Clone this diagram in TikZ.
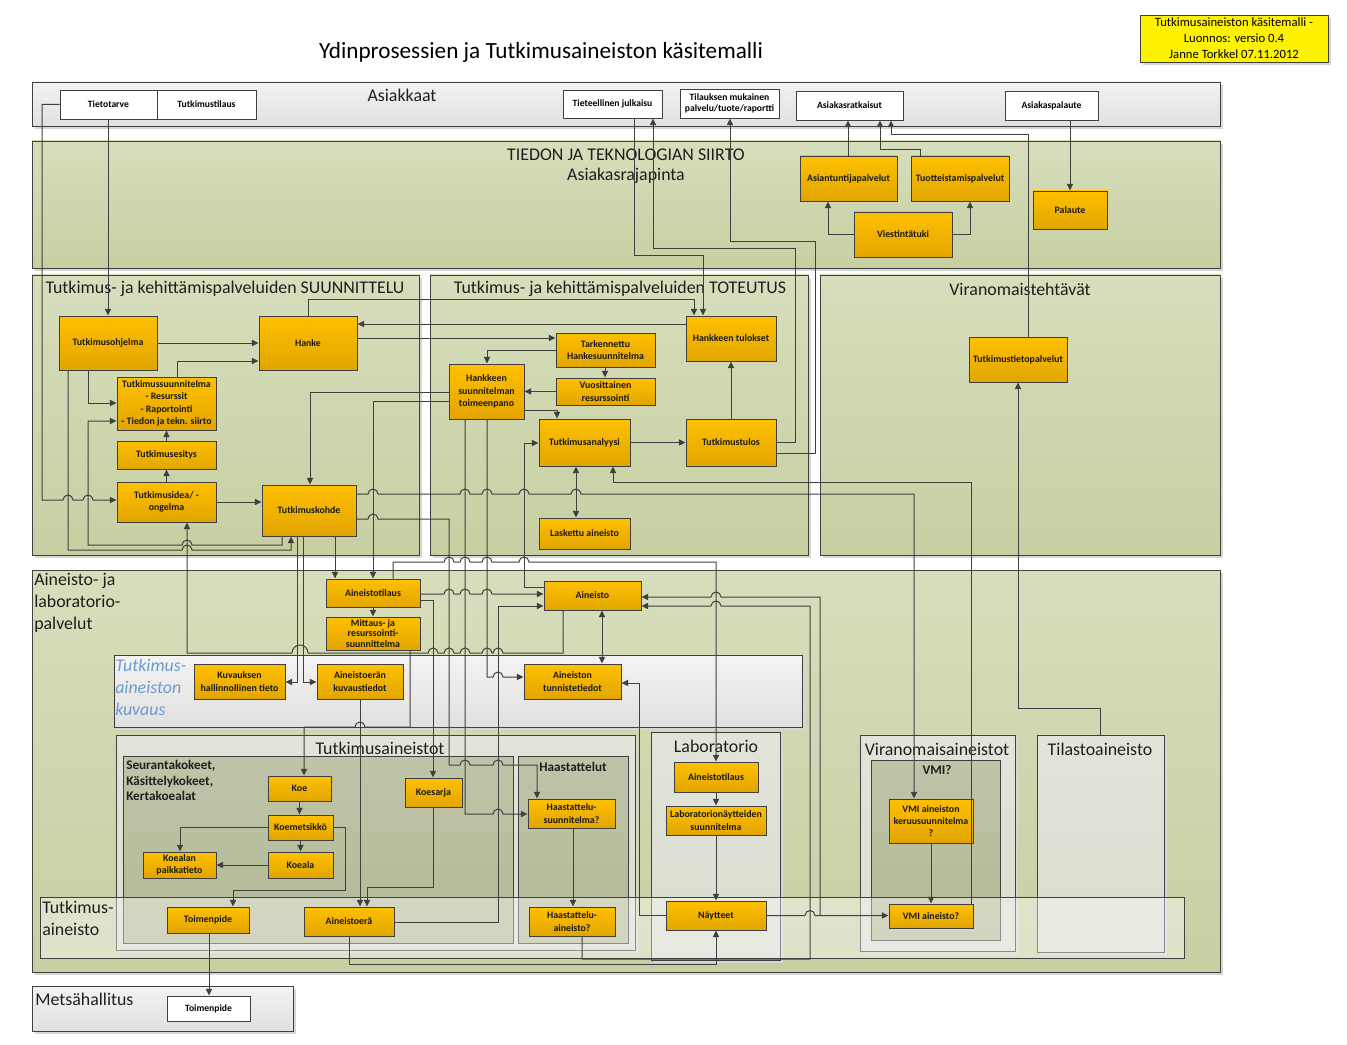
\documentclass[tikz,border=0pt]{standalone}
\usepackage{fontspec}
\setmainfont{Carlito}
\usetikzlibrary{arrows.meta}
\definecolor{orgT}{HTML}{FFC000}
\definecolor{orgB}{HTML}{E2A500}
\definecolor{grnT}{HTML}{D6DEBC}
\definecolor{grnB}{HTML}{C7CFA2}
\definecolor{lc}{HTML}{404040}
\definecolor{gryT}{HTML}{F3F3F3}
\definecolor{gryB}{HTML}{E0E0E0}
\definecolor{paleT}{HTML}{E2E4DA}
\definecolor{paleB}{HTML}{D9DCCE}
\definecolor{darkT}{HTML}{BEC4A7}
\definecolor{darkB}{HTML}{B3BA96}
\definecolor{kblue}{HTML}{6E9AD0}
\newcommand{\mybx}[7]{\node[#1,minimum width={(#5-#3)*0.75pt},minimum height={(#6-#4)*0.75pt}] (#2) at ({(#3+#5)/2},{(#4+#6)/2}) {#7};}
\newcommand{\mycbox}[5]{\fill[black!16] ({#1+3},{#2+3}) rectangle ({#3+3},{#4+3});\draw[draw=lc,line width=0.7pt,#5] (#1,#2) rectangle (#3,#4);}
\begin{document}
\begin{tikzpicture}[x=0.75pt,y=-0.75pt,
 ob/.style={draw=lc,line width=0.7pt,top color=orgT,bottom color=orgB,align=center,inner sep=0.5pt,text=black!90,font=\fontsize{7.4}{9.3}\selectfont\bfseries},
 wb/.style={draw=lc,line width=0.7pt,fill=white,align=center,inner sep=0.5pt,font=\fontsize{7.2}{8.8}\selectfont\bfseries},
 clab/.style={inner sep=0pt,text=black!88,font=\fontsize{13.4}{15}\selectfont},
 glab/.style={inner sep=0pt,text=black!88,font=\fontsize{9.9}{11.8}\selectfont\bfseries,align=left},
 con/.style={draw=lc,line width=0.75pt},
 arr/.style={con,-{Triangle[length=5pt,width=4.6pt]}},
 arr2/.style={con,{Triangle[length=5pt,width=4.6pt]}-{Triangle[length=5pt,width=4.6pt]}},
 grn/.style={top color=grnT,bottom color=grnB},
 gry/.style={top color=gryT,bottom color=gryB},
 pale/.style={top color=paleT,bottom color=paleB},
 dark/.style={top color=darkT,bottom color=darkB},
 hopR/.style 2 args={insert path={-- ({#1-5},#2) arc[start angle=180,end angle=360,radius=5]}},
 hopL/.style 2 args={insert path={-- ({#1+5},#2) arc[start angle=0,end angle=-180,radius=5]}},
 hopLw/.style 2 args={insert path={-- ({#1+8},#2) arc[start angle=0,end angle=-180,radius=8]}},
]
\useasboundingbox[fill=white] (0,0) rectangle (1347,1045);

% ---------- containers ----------
\mycbox{32}{82}{1220}{126}{gry}
\mycbox{32}{141}{1220}{268}{grn}
\mycbox{32}{275}{419}{555}{grn}
\mycbox{430}{275}{808}{555}{grn}
\mycbox{820}{275}{1220}{555}{grn}
\mycbox{32}{570}{1220}{972}{grn}
\mycbox{114}{655}{802}{727}{gry}
\mycbox{116}{735}{635}{950}{pale}
\draw[draw=lc,line width=0.7pt,dark] (123,756) rectangle (513,943);
\draw[draw=lc,line width=0.7pt,dark] (518,756) rectangle (628,943);
\mycbox{651}{732}{780}{960}{pale}
\mycbox{860}{735}{1015}{951}{pale}
\draw[draw=lc,line width=0.7pt,dark] (871,760) rectangle (1000,940);
\mycbox{1037}{735}{1164}{952}{pale}
\draw[draw=lc,line width=0.7pt,fill=white,fill opacity=0.4] (40,897) rectangle (1184,958);
\mycbox{32}{986}{293}{1031}{gry}
\coordinate (tilc) at (1100,735);

% ---------- labels ----------
\node (title) at (541,52) {\fontsize{17.4}{20}\selectfont Ydinprosessien ja Tutkimusaineiston käsitemalli};
\fill[black!16] (1143,18) rectangle (1331,65);
\mybx{draw=lc,line width=0.7pt,fill=yellow,align=center,inner sep=0pt,font=\fontsize{9.5}{12}\selectfont}{note}{1140}{15}{1328}{62}{Tutkimusaineiston käsitemalli -\\Luonnos: versio 0.4\\Janne Torkkel 07.11.2012}
\node[clab] (lAsi) at (402,95) {Asiakkaat};
\node[clab] (lTied) at (626,155) {TIEDON JA TEKNOLOGIAN SIIRTO};
\node[clab] (lAsr) at (626,176) {Asiakasrajapinta};
\node[clab] (lSuu) at (225,289) {Tutkimus- ja kehittämispalveluiden SUUNNITTELU};
\node[clab] (lTot) at (620,289) {Tutkimus- ja kehittämispalveluiden TOTEUTUS};
\node[clab] (lVir) at (1020,289) {Viranomaistehtävät};
\node[clab,anchor=north west,align=left,font=\fontsize{13.4}{16.5}\selectfont] (lAin) at (34,573) {Aineisto- ja\\laboratorio-\\palvelut};
\node[clab,anchor=north west,align=left,text=kblue,font=\fontsize{13.4}{16.5}\selectfont\itshape] (lKuv) at (115,659) {Tutkimus-\\aineiston\\kuvaus};
\node[clab] (lTa) at (380,748) {Tutkimusaineistot};
\node[glab,anchor=north west] (lSeu) at (126,760) {Seurantakokeet,\\Käsittelykokeet,\\Kertakoealat};
\node[glab] (lHaa) at (573,767) {Haastattelut};
\node[clab] (lLab) at (716,746) {Laboratorio};
\node[clab] (lVa) at (937,749) {Viranomaisaineistot};
\node[glab] (lVmi) at (937,770) {VMI?};
\node[clab] (lTil) at (1100,749) {Tilastoaineisto};
\node[clab,anchor=north west,align=left,font=\fontsize{13.4}{16.5}\selectfont] (lBand) at (42,901) {Tutkimus-\\aineisto};
\node[clab,anchor=west] (lMet) at (35,999) {Metsähallitus};

% ---------- boxes ----------
\mybx{wb}{tt}{60}{90}{157}{119}{Tietotarve}
\mybx{wb}{ttil}{157}{90}{256}{119}{Tutkimustilaus}
\mybx{wb}{jul}{563}{90}{662}{118}{Tieteellinen julkaisu}
\mybx{wb}{til}{680}{89}{779}{118}{Tilauksen mukainen\\palvelu/tuote/raportti}
\mybx{wb}{ark}{796}{91}{903}{120}{Asiakasratkaisut}
\mybx{wb}{apal}{1005}{91}{1098}{120}{Asiakaspalaute}
\mybx{ob}{asp}{800}{156}{897}{201}{Asiantuntijapalvelut}
\mybx{ob}{tuo}{911}{156}{1009}{201}{Tuotteistamispalvelut}
\mybx{ob}{vie}{854}{212}{952}{257}{Viestintätuki}
\mybx{ob}{pal}{1033}{191}{1107}{229}{Palaute}
\mybx{ob}{tohj}{59}{316}{157}{370}{Tutkimusohjelma}
\mybx{ob}{hanke}{259}{316}{357}{370}{Hanke}
\mybx{ob}{tsuun}{117}{377}{216}{430}{Tutkimussuunnitelma\\- Resurssit\\- Raportointi\\- Tiedon ja tekn. siirto}
\mybx{ob}{tes}{117}{441}{216}{469}{Tutkimusesitys}
\mybx{ob}{tid}{117}{482}{216}{522}{Tutkimusidea/ -\\ongelma}
\mybx{ob}{tkoh}{262}{485}{356}{536}{Tutkimuskohde}
\mybx{ob}{htul}{686}{316}{776}{361}{Hankkeen tulokset}
\mybx{ob}{tark}{556}{333}{655}{367}{Tarkennettu\\Hankesuunnitelma}
\mybx{ob}{htp}{449}{364}{524}{419}{Hankkeen\\suunnitelman\\toimeenpano}
\mybx{ob}{vuo}{556}{378}{655}{405}{Vuosittainen\\resurssointi}
\mybx{ob}{tan}{539}{419}{630}{466}{Tutkimusanalyysi}
\mybx{ob}{tulos}{686}{419}{776}{466}{Tutkimustulos}
\mybx{ob}{lask}{539}{518}{630}{549}{Laskettu aineisto}
\mybx{ob}{ttp}{969}{337}{1067}{382}{Tutkimustietopalvelut}
\mybx{ob}{atil}{326}{579}{420}{607}{Aineistotilaus}
\mybx{ob,font=\fontsize{7.4}{8.1}\selectfont\bfseries}{mit}{326}{617}{420}{650}{Mittaus- ja\\resurssointi-\\suunnittelma}
\mybx{ob}{ain}{544}{581}{641}{610}{Aineisto}
\mybx{ob}{kuv}{194}{664}{285}{699}{Kuvauksen\\hallinnollinen tieto}
\mybx{ob}{aek}{317}{664}{403}{699}{Aineistoerän\\kuvaustiedot}
\mybx{ob}{atun}{524}{664}{621}{699}{Aineiston\\tunnistetiedot}
\mybx{ob}{koe}{268}{776}{331}{801}{Koe}
\mybx{ob}{kms}{268}{815}{333}{840}{Koemetsikkö}
\mybx{ob}{kpt}{143}{852}{216}{878}{Koealan\\paikkatieto}
\mybx{ob}{kal}{268}{852}{333}{878}{Koeala}
\mybx{ob}{toi}{167}{907}{249}{933}{Toimenpide}
\mybx{ob}{aer}{304}{907}{394}{936}{Aineistoerä}
\mybx{ob}{kse}{405}{778}{462}{807}{Koesarja}
\mybx{ob}{hsu}{528}{799}{615}{828}{Haastattelu-\\suunnitelma?}
\mybx{ob}{hai}{529}{907}{615}{936}{Haastattelu-\\aineisto?}
\mybx{ob}{latil}{674}{762}{758}{792}{Aineistotilaus}
\mybx{ob}{lns}{666}{806}{766}{835}{Laboratorionäytteiden\\suunnitelma}
\mybx{ob}{nay}{666}{901}{766}{930}{Näytteet}
\mybx{ob}{vkeru}{889}{799}{973}{843}{VMI aineiston\\keruusuunnitelma\\?}
\mybx{ob}{vain}{889}{904}{973}{928}{VMI aineisto?}
\mybx{wb}{mtoi}{167}{996}{250}{1021}{Toimenpide}

% ---------- connectors ----------
\draw[arr] (tt.west) -| (42,300) -- (42,500) [hopR={68}{500}] [hopR={88}{500}] -- (tid.west |- 0,500);
\draw[arr] (tt.south -| 108,0) -- (tohj.north -| 108,0);
\draw[arr] (jul.south -| 634,0) -- (634,256) -- (703,256) -- (htul.north -| 703,0);
\draw[arr] (tulos.east |- 0,442) -- (795,442) -- (795,249) -- (653,249) -- (jul.south -| 653,0);
\draw[arr] (tulos.east |- 0,453) -- (815,453) -- (815,242) -- (730,242) -- (til.south -| 730,0);
\draw[arr] (asp.north -| 848,0) -- (ark.south -| 848,0);
\draw[arr] (tuo.north -| 920,0) -- (920,150) -- (880,150) -- (ark.south -| 880,0);
\draw[arr] (ttp.north -| 1028,0) -- (1028,135) -- (891,135) -- (ark.south -| 891,0);
\draw[arr] (apal.south -| 1070,0) -- (pal.north -| 1070,0);
\draw[arr] (vie.west) -| (asp.south -| 828,0);
\draw[arr] (vie.east) -| (tuo.south -| 970,0);
\draw[arr] (tohj.east) -- (hanke.west);
\draw[arr] (tsuun.north -| 177,0) -- (177,361) -- (hanke.west |- 0,361);
\draw[arr] (tohj.south -| 88,0) -- (88,403) -- (tsuun.west |- 0,403);
\draw[arr] (tohj.south -| 68,0) -- (68,550) [hopR={187}{550}] -- (291,550) -- (tkoh.south -| 291,0);
\draw[arr] (tkoh.south -| 282,0) -- (282,545) [hopL={187}{545}] -- (88,545) -- (88,421) -- (tsuun.west |- 0,421);
\draw[arr] (tes.north) -- (tsuun.south);
\draw[arr] (tid.north) -- (tes.south);
\draw[arr] (tid.east) -- (tkoh.west |- tid.east);
\draw[arr] (hanke.north -| 308,0) -- (308,300) -- (694,300) -- (htul.north -| 694,0);
\draw[arr] (htul.west |- 0,324) -- (hanke.east |- 0,324);
\draw[arr] (hanke.east |- 0,338) -- (tark.west |- 0,338);
\draw[arr] (tark.west |- 0,350) -- (487,350) -- (htp.north -| 487,0);
\draw[arr] (tark.south -| 605,0) -- (vuo.north -| 605,0);
\draw[arr] (vuo.west) -- (htp.east |- vuo.west);
\draw[arr] (htp.east |- 0,410) -- (557,410) -- (tan.north -| 557,0);
\draw[arr] (htp.west |- 0,392) -- (310,392) -- (tkoh.north -| 310,0);
\draw[arr] (htp.west |- 0,401) -- (373,401) -- (atil.north -| 373,0);
\draw[arr] (tkoh.east |- 0,494) [hopR={373}{494}] [hopR={465}{494}] [hopR={487}{494}] [hopR={524}{494}] [hopR={576}{494}] -- (914,494) -- (vkeru.north -| 914,0);
\draw[arr] (tkoh.east |- 0,519) [hopR={373}{519}] -- (449,519) -- (449,765) [hopR={465}{765}] [hopR={498}{765}] -- (537,765) -- (hsu.north -| 537,0);
\draw[arr] (htp.south -| 465,0) -- (465,814) [hopR={498}{814}] -- (hsu.west |- 0,814);
\draw[arr] (htp.south -| 487,0) -- (487,677) [hopR={498}{677}] -- (atun.west |- 0,677);
\draw[arr] (tulos.north) -- (htul.south);
\draw[arr] (tan.east) -- (tulos.west);
\draw[arr2] (tan.south -| 576,0) -- (lask.north -| 576,0);
\draw[arr] (vain.north -| 971,0) -- (971,482) -- (613,482) -- (tan.south -| 613,0);
\draw[arr] (ain.west |- 0,587) -- (524,587) -- (524,443) -- (tan.west |- 0,443);
\draw[arr] (tkoh.south -| 297,0) -- (297,682) -- (kuv.east |- 0,682);
\draw[arr] (tkoh.south -| 303,0) -- (303,682) -- (aek.west |- 0,682);
\draw[arr] (tkoh.south -| 335,0) -- (atil.north -| 335,0);
\draw[arr] (atil.south -| 373,0) -- (mit.north -| 373,0);
\draw[arr] (atil.east |- 0,594) [hopR={449}{594}] [hopR={465}{594}] [hopR={487}{594}] -- (ain.west |- 0,594);
\draw[arr] (atil.east |- 0,600) -- (433,600) -- (kse.north -| 433,0);
\draw[arr] (atil.north -| 393,0) -- (393,562) [hopR={449}{562}] [hopR={465}{562}] [hopR={487}{562}] [hopR={524}{562}] -- (716,562) -- (latil.north -| 716,0);
\draw[arr] (ain.south -| 563,0) -- (563,653) [hopL={498}{653}] [hopL={487}{653}] [hopL={465}{653}] [hopL={449}{653}] [hopL={433}{653}] [hopLw={300}{653}] -- (187,653) -- (tid.south -| 187,0);
\draw[arr] (mit.south -| 410,0) -- (410,727) [hopL={360}{727}] -- (304,727) -- (koe.north -| 304,0);
\draw[arr] (aek.south -| 360,0) -- (aer.north -| 360,0);
\draw[arr] (kse.south) -- (kse.south |- 0,887) -- (367,887) -- (aer.north -| 367,0);
\draw[arr] (aer.east |- 0,922) -- (498,922) -- (498,606) -- (ain.west |- 0,606);
\draw[arr] (nay.east) [hopR={810}{915.5}] -- (vain.west |- nay.east);
\draw[arr] (nay.east -| 820,0) -- (820,597) [hopL={716}{597}] -- (ain.east |- 0,597);
\draw[arr] (hai.south -| 582,0) -- (582,959) -- (810,959) -- (810,606) [hopL={716}{606}] -- (ain.east |- 0,606);
\draw[arr] (aer.south -| 349,0) -- (349,964) -- (716,964) -- (nay.south);
\draw[arr] (nay.west) -- (639,915.5) -- (639,683) -- (atun.east |- 0,683);
\draw[arr2] (ain.south -| 602,0) -- (atun.north -| 602,0);
\draw[arr] (koe.south) -- (koe.south |- kms.north);
\draw[arr] (kms.south) -- (kal.north);
\draw[arr] (kms.west) -| (kpt.north -| 180,0);
\draw[arr] (kal.west) -- (kpt.east |- kal.west);
\draw[arr] (kms.east) -- (345,827.5) -- (345,890) -- (233,890) -- (toi.north -| 233,0);
\draw[arr] (toi.south -| 209,0) -- (mtoi.north -| 209,0);
\draw[arr] (hsu.south -| 573,0) -- (hai.north -| 573,0);
\draw[arr] (latil.south) -- (lns.north);
\draw[arr] (lns.south) -- (nay.north);
\draw[arr] (vkeru.south) -- (vain.north);
\draw[arr] (tilc) -- (1100,708) -- (1018,708) -- (ttp.south -| 1018,0);
\end{tikzpicture}
\end{document}
